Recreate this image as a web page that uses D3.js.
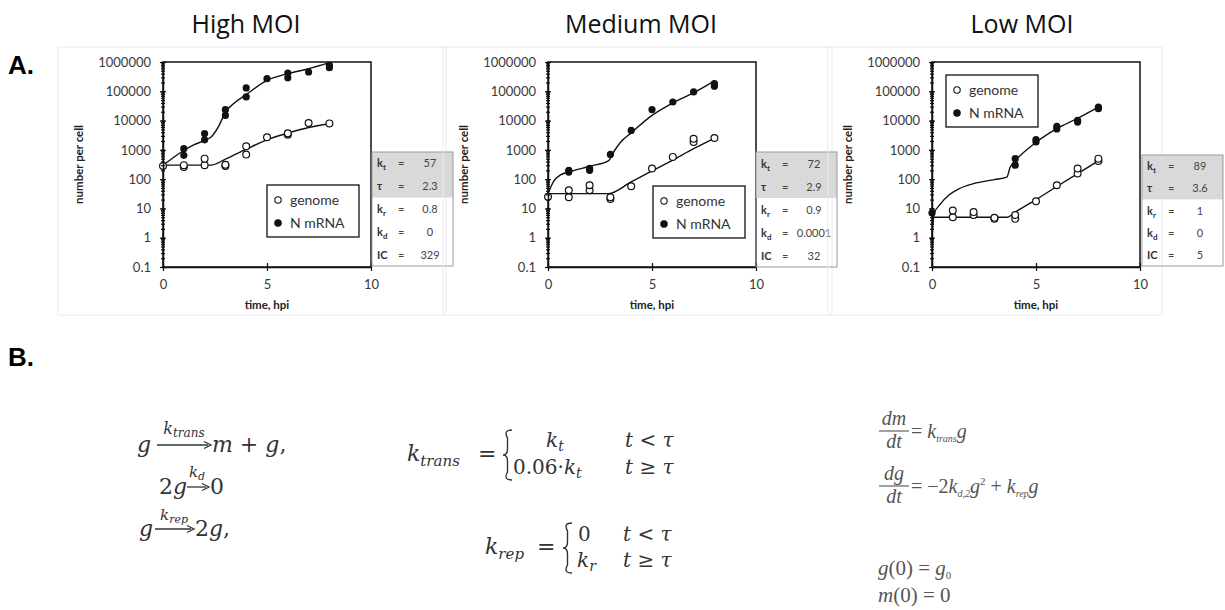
<!DOCTYPE html>
<html lang="en">
<head>
<meta charset="UTF-8">
<title>MOI model fits</title>
<script src="https://cdn.jsdelivr.net/npm/d3@7"></script>
<style>
  body { margin: 0; background: #fff; }
</style>
</head>
<body>
<script>
// ---- values ----
var panelTitles = ["High MOI", "Medium MOI", "Low MOI"];
var legendLabels = ["genome", "N mRNA"];
var paramNames = [["k", "t"], ["\u03c4", ""], ["k", "r"], ["k", "d"], ["IC", ""]];
var highParams = ["57", "2.3", "0.8", "0", "329"];
var mediumParams = ["72", "2.9", "0.9", "0.0001", "32"];
var lowParams = ["89", "3.6", "1", "0", "5"];

var yTickValues = [0.1, 1, 10, 100, 1000, 10000, 100000, 1000000];
var yTickLabels = ["0.1", "1", "10", "100", "1000", "10000", "100000", "1000000"];
var xTickValues = [0, 5, 10];

// observations [hpi, number per cell]
var highGenome = [[0, 280], [1, 260], [1, 300], [2, 300], [2, 500], [3, 280], [3, 310], [4, 690], [4, 1320], [5, 2700], [6, 3300], [6, 3700], [7, 8300], [8, 8000]];
var highMrna = [[1, 650], [1, 1100], [2, 2200], [2, 3600], [3, 15000], [3, 23500], [4, 64000], [4, 130000], [5, 270000], [6, 290000], [6, 420000], [7, 455000], [8, 640000], [8, 770000]];
var mediumGenome = [[0, 25], [1, 24], [1, 42], [2, 42], [2, 62], [3, 21], [3, 24], [4, 57], [5, 230], [6, 575], [7, 1870], [7, 2400], [8, 2540]];
var mediumMrna = [[1, 175], [1, 200], [2, 200], [2, 235], [3, 700], [4, 4600], [5, 23700], [6, 43000], [7, 95000], [8, 150000], [8, 182000]];
var lowGenome = [[1, 5], [1, 8.5], [2, 6], [2, 7.5], [3, 4.4], [3, 4.8], [4, 4.4], [4, 6], [5, 17.5], [6, 62], [7, 155], [7, 230], [8, 420], [8, 500]];
var lowMrna = [[0, 7], [4, 300], [4, 500], [5, 1870], [5, 2240], [6, 5200], [6, 6300], [7, 8900], [7, 10200], [8, 25500], [8, 29000]];

// model curves, traced
var highGenomeFit = [[0, 300], [1, 300], [2, 300], [2.3, 300], [3, 480], [4, 1050], [5, 2200], [6, 3700], [7, 5800], [8, 7800]];
var highMrnaFit = [[0, 300], [0.5, 550], [1, 950], [1.5, 1500], [2, 2100], [2.3, 2700], [2.7, 6900], [3, 19500], [3.4, 38000], [4, 77000], [5, 235000], [6, 400000], [7, 590000], [8, 950000]];
var mediumGenomeFit = [[0, 32], [1, 32], [2, 32], [2.9, 32], [4, 80], [5, 190], [6, 450], [7, 1100], [8, 2500]];
var mediumMrnaFit = [[0, 32], [0.3, 90], [0.6, 140], [1, 175], [2, 275], [2.9, 420], [3.2, 950], [3.5, 1850], [4, 3800], [5, 15000], [6, 40000], [7, 88000], [8, 225000]];
var lowGenomeFit = [[0, 5], [1, 5], [2, 5], [3, 5], [3.6, 5], [4, 7.5], [5, 20], [6, 56], [7, 155], [8, 420]];
var lowMrnaFit = [[0, 1], [0.1, 6.6], [0.4, 14], [0.8, 28], [1.25, 45], [2, 70], [3, 96], [3.6, 117], [3.75, 250], [4, 420], [5, 1800], [6, 5300], [7, 12000], [8, 29000]];

var panelData = [
  {genome: highGenome, mrna: highMrna, genomeFit: highGenomeFit, mrnaFit: highMrnaFit, params: highParams},
  {genome: mediumGenome, mrna: mediumMrna, genomeFit: mediumGenomeFit, mrnaFit: mediumMrnaFit, params: mediumParams},
  {genome: lowGenome, mrna: lowMrna, genomeFit: lowGenomeFit, mrnaFit: lowMrnaFit, params: lowParams}
];

// ---- layout ----
var layout = [
  {x0: 163, titleX: 246, boxX: 58, boxW: 388, legX: 267, legY: 185, tabX: 372, tabY: 152, tabH: 114},
  {x0: 548, titleX: 641, boxX: 443, boxW: 389, legX: 653, legY: 186, tabX: 756, tabY: 152, tabH: 115},
  {x0: 932, titleX: 1022, boxX: 828, boxW: 334, legX: 946, legY: 75, tabX: 1142, tabY: 155, tabH: 111}
];
var plotW = 208, plotTop = 62, plotBot = 267;

var svg = d3.select("body").append("svg").attr("width", 1225).attr("height", 610)
  .style("font-family", "Lato, 'Open Sans', sans-serif");

svg.append("text").attr("x", 8).attr("y", 74).text("A.")
  .style("font-family", "'Liberation Sans', Arial, sans-serif").style("font-weight", "bold").style("font-size", "26px");
svg.append("text").attr("x", 8).attr("y", 366).text("B.")
  .style("font-family", "'Liberation Sans', Arial, sans-serif").style("font-weight", "bold").style("font-size", "26px");

layout.forEach(function(L, p) {
  var D = panelData[p];
  var g = svg.append("g");

  var x = d3.scaleLinear().domain([0, 10]).range([L.x0, L.x0 + plotW]);
  var y = d3.scaleLog().domain([0.1, 1000000]).range([plotBot, plotTop]);

  // chart area outline
  g.append("rect").attr("x", L.boxX).attr("y", 47).attr("width", L.boxW).attr("height", 268)
    .attr("fill", "none").attr("stroke", "#ececec");

  g.append("text").attr("x", L.titleX).attr("y", 33).attr("text-anchor", "middle")
    .style("font-family", "'Open Sans', sans-serif").style("font-size", "25px").attr("fill", "#111")
    .text(panelTitles[p]);

  // plot frame
  g.append("rect").attr("x", L.x0).attr("y", plotTop).attr("width", plotW).attr("height", plotBot - plotTop)
    .attr("fill", "none").attr("stroke", "#111").attr("stroke-width", 1.5);

  var line = d3.line().x(function(d) { return x(d[0]); }).y(function(d) { return y(d[1]); })
    .curve(d3.curveMonotoneX);
  [D.genomeFit, D.mrnaFit].forEach(function(s) {
    g.append("path").attr("d", line(s)).attr("fill", "none").attr("stroke", "#111").attr("stroke-width", 1.4);
  });

  g.selectAll(".gen").data(D.genome).enter().append("circle")
    .attr("cx", function(d) { return x(d[0]); }).attr("cy", function(d) { return y(d[1]); })
    .attr("r", 3.4).attr("fill", "#fff").attr("stroke", "#111").attr("stroke-width", 1.2);
  g.selectAll(".mrna").data(D.mrna).enter().append("circle")
    .attr("cx", function(d) { return x(d[0]); }).attr("cy", function(d) { return y(d[1]); })
    .attr("r", 3.6).attr("fill", "#111");

  // y axis: majors + minors, ticks crossing the line
  var yAx = g.append("g").attr("transform", "translate(" + L.x0 + ",0)")
    .call(d3.axisLeft(y).tickValues(yTickValues).tickFormat(function(d, i) { return yTickLabels[i]; })
      .tickSizeInner(3).tickSizeOuter(0).tickPadding(9));
  yAx.selectAll(".tick line").attr("x2", -3).attr("x1", 3);
  var yMin = g.append("g").attr("transform", "translate(" + L.x0 + ",0)")
    .call(d3.axisLeft(y).tickValues(y.ticks()).tickFormat("").tickSizeInner(2).tickSizeOuter(0));
  yMin.selectAll(".tick line").attr("x1", 2);
  yMin.select(".domain").remove();

  var xAx = g.append("g").attr("transform", "translate(0," + plotBot + ")")
    .call(d3.axisBottom(x).tickValues(xTickValues).tickSizeInner(4).tickSizeOuter(0).tickPadding(9));
  xAx.selectAll(".tick line").attr("y1", -4);

  [yAx, yMin, xAx].forEach(function(a) {
    a.select(".domain").attr("stroke", "#111").attr("stroke-width", 1.5);
    a.selectAll(".tick line").attr("stroke", "#111").attr("stroke-width", 1.2);
    a.selectAll(".tick text").style("font-family", "Lato, sans-serif").style("font-size", "13px").attr("fill", "#3a3a3a");
  });

  g.append("text").attr("transform", "translate(" + (L.x0 - 80) + "," + ((plotTop + plotBot) / 2) + ") rotate(-90)")
    .attr("text-anchor", "middle").style("font-size", "11.5px").style("font-weight", "bold").attr("fill", "#222")
    .text("number per cell");
  g.append("text").attr("x", L.x0 + plotW / 2).attr("y", 309).attr("text-anchor", "middle")
    .style("font-size", "11.5px").style("font-weight", "bold").attr("fill", "#222").text("time, hpi");

  // legend
  var leg = g.append("g").attr("transform", "translate(" + L.legX + "," + L.legY + ")");
  leg.append("rect").attr("width", 92).attr("height", 52).attr("fill", "#fff").attr("stroke", "#111").attr("stroke-width", 1.3);
  legendLabels.forEach(function(lab, i) {
    var cy = 15 + i * 23;
    leg.append("circle").attr("cx", 11).attr("cy", cy).attr("r", 3.2)
      .attr("fill", i ? "#111" : "#fff").attr("stroke", "#111").attr("stroke-width", 1.1);
    leg.append("text").attr("x", 23).attr("y", cy + 5).style("font-size", "14px").attr("fill", "#333").text(lab);
  });

  // parameter table
  var rowH = L.tabH / 5;
  var tab = g.append("g").attr("transform", "translate(" + L.tabX + "," + L.tabY + ")");
  tab.append("rect").attr("width", 81).attr("height", rowH * 2).attr("fill", "#d9d9d9");
  tab.append("rect").attr("width", 81).attr("height", L.tabH).attr("fill", "none").attr("stroke", "#9a9a9a");
  paramNames.forEach(function(nm, i) {
    var by = rowH * i + rowH / 2 + 4;
    var t = tab.append("text").attr("x", 5).attr("y", by).style("font-size", "11px").style("font-weight", "bold").attr("fill", "#333");
    t.append("tspan").text(nm[0]);
    if (nm[1]) t.append("tspan").attr("dy", 3).style("font-size", "8px").text(nm[1]);
    tab.append("text").attr("x", 26).attr("y", by).style("font-size", "11px").attr("fill", "#444").text("=");
    tab.append("text").attr("x", 58).attr("y", by).attr("text-anchor", "middle").style("font-size", "11px")
      .attr("fill", "#444").text(D.params[i]);
  });
});

// ---- part B: equations ----
var eq = svg.append("g").attr("fill", "#333")
  .style("font-family", "'DejaVu Serif', 'Liberation Serif', serif");

function mtext(x, y, parts, size, anchor) {
  var t = eq.append("text").attr("x", x).attr("y", y).style("font-size", size + "px");
  if (anchor) t.attr("text-anchor", anchor);
  parts.forEach(function(pt) {
    var s = t.append("tspan").text(pt[0]);
    if (pt[1] === "i") s.style("font-style", "italic");
    if (pt[2]) s.attr("dy", pt[2]);
    if (pt[3]) s.style("font-size", pt[3] + "px");
  });
  return t;
}
function arrow(x1, x2, yy) {
  eq.append("line").attr("x1", x1).attr("x2", x2 - 3).attr("y1", yy).attr("y2", yy).attr("stroke", "#333").attr("stroke-width", 1.3);
  eq.append("path").attr("d", "M" + (x2 - 7) + "," + (yy - 3.5) + "L" + x2 + "," + yy + "L" + (x2 - 7) + "," + (yy + 3.5))
    .attr("fill", "none").attr("stroke", "#333").attr("stroke-width", 1.3);
}
function brace(x, y1, y2) {
  var m = (y1 + y2) / 2, w = 9;
  eq.append("path").attr("d",
    "M" + (x + w) + "," + y1 + " Q" + x + "," + y1 + " " + (x + w / 2) + "," + (y1 + 8) +
    " L" + (x + w / 2) + "," + (m - 6) + " Q" + (x + w / 2) + "," + m + " " + x + "," + m +
    " Q" + (x + w / 2) + "," + m + " " + (x + w / 2) + "," + (m + 6) +
    " L" + (x + w / 2) + "," + (y2 - 8) + " Q" + x + "," + y2 + " " + (x + w) + "," + y2)
    .attr("fill", "none").attr("stroke", "#333").attr("stroke-width", 1.4);
}

// reactions
mtext(137, 452, [["g", "i"]], 22);
arrow(157, 211, 445);
mtext(184, 434, [["k", "i"], ["trans", "i", 3, 12]], 16, "middle");
mtext(212, 452, [["m", "i"], [" + ", ""], ["g", "i"], [",", ""]], 22);

mtext(159, 494, [["2", ""], ["g", "i"]], 22);
arrow(187, 209, 487);
mtext(197, 477, [["k", "i"], ["d", "i", 3, 11]], 15, "middle");
mtext(210, 494, [["0", ""]], 22);

mtext(139, 536, [["g", "i"]], 22);
arrow(155, 194, 529);
mtext(174, 520, [["k", "i"], ["rep", "i", 3, 11]], 15, "middle");
mtext(195, 536, [["2", ""], ["g", "i"], [",", ""]], 22);

// piecewise rates
mtext(407, 461, [["k", "i"], ["trans", "i", 5, 15]], 22);
mtext(478, 461, [["=", ""]], 22);
brace(503, 430, 480);
mtext(555, 447, [["k", "i"], ["t", "i", 4, 14]], 20, "middle");
mtext(513, 474, [["0.06\u00b7", ""], ["k", "i"], ["t", "i", 4, 14]], 20);
mtext(625, 447, [["t", "i"], [" < ", ""], ["\u03c4", "i"]], 20);
mtext(625, 474, [["t", "i"], [" \u2265 ", ""], ["\u03c4", "i"]], 20);

mtext(485, 554, [["k", "i"], ["rep", "i", 5, 15]], 22);
mtext(537, 554, [["=", ""]], 22);
brace(563, 523, 573);
mtext(578, 541, [["0", ""]], 20);
mtext(577, 567, [["k", "i"], ["r", "i", 4, 14]], 20);
mtext(623, 541, [["t", "i"], [" < ", ""], ["\u03c4", "i"]], 20);
mtext(623, 567, [["t", "i"], [" \u2265 ", ""], ["\u03c4", "i"]], 20);

// ODE system
var ode = eq.append("g").attr("fill", "#555").style("font-family", "'Liberation Serif', serif");
function otext(x, y, parts, size, anchor) {
  var t = ode.append("text").attr("x", x).attr("y", y).style("font-size", size + "px");
  if (anchor) t.attr("text-anchor", anchor);
  parts.forEach(function(pt) {
    var s = t.append("tspan").text(pt[0]);
    if (pt[1] === "i") s.style("font-style", "italic");
    if (pt[2]) s.attr("dy", pt[2]);
    if (pt[3]) s.style("font-size", pt[3] + "px");
  });
}
function fracBar(x1, x2, yy) {
  ode.append("line").attr("x1", x1).attr("x2", x2).attr("y1", yy).attr("y2", yy).attr("stroke", "#555").attr("stroke-width", 1.1);
}
otext(894, 425, [["dm", "i"]], 20, "middle");
fracBar(879, 909, 431);
otext(894, 448, [["dt", "i"]], 20, "middle");
otext(911, 438, [["= ", ""], ["k", "i"], ["trans", "i", 4, 10], ["g", "i", -4, 20]], 20);

otext(894, 480, [["dg", "i"]], 20, "middle");
fracBar(879, 909, 486);
otext(894, 503, [["dt", "i"]], 20, "middle");
otext(911, 493, [["= \u22122", ""], ["k", "i"], ["d,2", "i", 4, 10], ["g", "i", -4, 20], ["2", "", -8, 11], [" + ", "", 8, 20], ["k", "i"], ["rep", "i", 4, 10], ["g", "i", -4, 20]], 20);

otext(878, 575, [["g", "i"], ["(0) = ", ""], ["g", "i"], ["0", "", 4, 11]], 21);
otext(878, 602, [["m", "i"], ["(0) = 0", ""]], 21);
</script>
</body>
</html>
